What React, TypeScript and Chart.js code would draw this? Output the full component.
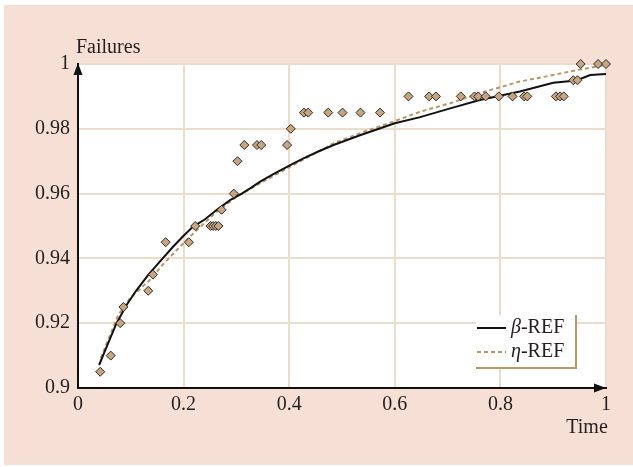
import React, { useEffect, useRef } from "react";
import { Chart, registerables } from "chart.js";

Chart.register(...registerables);

// Observed failure fractions (diamonds)
const failureTimes = [
  0.042, 0.062, 0.08, 0.086, 0.133, 0.142, 0.166, 0.21, 0.222, 0.251, 0.256,
  0.261, 0.266, 0.272, 0.295, 0.302, 0.315, 0.339, 0.347, 0.396, 0.403, 0.428,
  0.436, 0.474, 0.501, 0.535, 0.572, 0.626, 0.665, 0.678, 0.725, 0.751, 0.758,
  0.772, 0.797, 0.823, 0.845, 0.851, 0.905, 0.913, 0.92, 0.938, 0.946, 0.952,
  0.985, 1.0,
];
const failureLevels = [
  0.905, 0.91, 0.92, 0.925, 0.93, 0.935, 0.945, 0.945, 0.95, 0.95, 0.95, 0.95,
  0.95, 0.955, 0.96, 0.97, 0.975, 0.975, 0.975, 0.975, 0.98, 0.985, 0.985,
  0.985, 0.985, 0.985, 0.985, 0.99, 0.99, 0.99, 0.99, 0.99, 0.99, 0.99, 0.99,
  0.99, 0.99, 0.99, 0.99, 0.99, 0.99, 0.995, 0.995, 1.0, 1.0, 1.0,
];

// β-REF reference curve
const betaTimes = [
  0.04, 0.055, 0.073, 0.092, 0.11, 0.133, 0.155, 0.18, 0.2, 0.218, 0.24, 0.263,
  0.288, 0.31, 0.326, 0.345, 0.37, 0.402, 0.427, 0.455, 0.484, 0.534, 0.6,
  0.648, 0.705, 0.761, 0.837, 0.9, 0.944, 0.97, 1.0,
];
const betaValues = [
  0.9071, 0.913, 0.92, 0.9256, 0.93, 0.9349, 0.939, 0.9436, 0.947, 0.9498,
  0.952, 0.955, 0.958, 0.96, 0.9616, 0.9637, 0.966, 0.9688, 0.9709, 0.973,
  0.975, 0.978, 0.9817, 0.9836, 0.9863, 0.9889, 0.9915, 0.9942, 0.9949, 0.9966,
  0.9969,
];

// η-REF reference curve
const etaTimes = [
  0.043, 0.06, 0.076, 0.1, 0.136, 0.16, 0.187, 0.22, 0.263, 0.3, 0.345, 0.402,
  0.484, 0.54, 0.597, 0.648, 0.705, 0.761, 0.837, 0.9, 0.944, 1.0,
];
const etaValues = [
  0.9092, 0.916, 0.9225, 0.928, 0.9333, 0.938, 0.9426, 0.948, 0.9544, 0.959,
  0.9632, 0.9683, 0.9755, 0.979, 0.9822, 0.9853, 0.9879, 0.991, 0.9946, 0.9966,
  0.9981, 0.9997,
];

const xTickLabels = ["0", "0.2", "0.4", "0.6", "0.8", "1"];
const yTickLabels = ["0.9", "0.92", "0.94", "0.96", "0.98", "1"];

const FONT = "'Liberation Serif', 'Times New Roman', serif";
const TEXT = "#231f20";
const GRID = "#ecdccb";
const TAN = "#b8976a";

const decor = {
  id: "decor",
  beforeDraw(chart: any) {
    const { ctx, chartArea: a } = chart;
    ctx.save();
    ctx.fillStyle = "#ffffff";
    ctx.fillRect(a.left, a.top, a.right - a.left, a.bottom - a.top);
    ctx.restore();
  },
  afterDraw(chart: any) {
    const { ctx, chartArea: a } = chart;
    ctx.save();
    ctx.fillStyle = "#111111";
    // arrow heads on the axes
    ctx.beginPath();
    ctx.moveTo(a.left, a.top - 1);
    ctx.lineTo(a.left - 4.5, a.top + 11);
    ctx.lineTo(a.left + 4.5, a.top + 11);
    ctx.closePath();
    ctx.fill();
    ctx.beginPath();
    ctx.moveTo(a.right, a.bottom);
    ctx.lineTo(a.right - 12, a.bottom - 4.5);
    ctx.lineTo(a.right - 12, a.bottom + 4.5);
    ctx.closePath();
    ctx.fill();

    // axis titles
    ctx.fillStyle = TEXT;
    ctx.font = `20px ${FONT}`;
    ctx.textBaseline = "middle";
    ctx.textAlign = "left";
    ctx.fillText("Failures", a.left - 2, a.top - 16);
    ctx.textAlign = "center";
    ctx.fillText("Time", a.right - 19, a.bottom + 40);

    // legend box
    const lx = 476;
    const ly = 315;
    const lw = 100;
    const lh = 53;
    ctx.fillStyle = "#ffffff";
    ctx.fillRect(lx, ly, lw, lh);
    ctx.strokeStyle = TAN;
    ctx.lineWidth = 2;
    ctx.beginPath();
    ctx.moveTo(lx + lw, ly);
    ctx.lineTo(lx + lw, ly + lh);
    ctx.lineTo(lx, ly + lh);
    ctx.stroke();

    const items = chart.data.datasets.filter((d: any) => d.showLine);
    items.forEach((d: any, i: number) => {
      const y = ly + 13 + i * 24;
      ctx.strokeStyle = d.borderColor;
      ctx.lineWidth = d.borderWidth;
      ctx.setLineDash(d.borderDash || []);
      ctx.beginPath();
      ctx.moveTo(lx + 1, y);
      ctx.lineTo(lx + 30, y);
      ctx.stroke();
      ctx.setLineDash([]);
      const label: string = d.label;
      const sym = label.charAt(0);
      const rest = label.slice(1);
      ctx.fillStyle = TEXT;
      ctx.textAlign = "left";
      ctx.textBaseline = "middle";
      ctx.font = `italic 20px ${FONT}`;
      let tx = lx + 35;
      ctx.fillText(sym, tx, y);
      tx += ctx.measureText(sym).width;
      ctx.font = `20px ${FONT}`;
      ctx.fillText(rest, tx, y);
    });
    ctx.restore();
  },
};

export default function App() {
  const canvasRef = useRef<HTMLCanvasElement | null>(null);

  useEffect(() => {
    const canvas = canvasRef.current;
    if (!canvas) return;
    const chart = new Chart(canvas, {
      type: "scatter",
      data: {
        datasets: [
          {
            label: "Failures",
            data: failureTimes.map((t, i) => ({ x: t, y: failureLevels[i] })),
            pointStyle: "rectRot",
            pointRadius: 4.5,
            backgroundColor: "#c8a57e",
            borderColor: "#2b2b2b",
            borderWidth: 1,
            clip: false,
            order: 0,
          },
          {
            label: "β-REF",
            data: betaTimes.map((t, i) => ({ x: t, y: betaValues[i] })),
            showLine: true,
            pointRadius: 0,
            borderColor: "#111111",
            borderWidth: 2,
            order: 1,
          },
          {
            label: "η-REF",
            data: etaTimes.map((t, i) => ({ x: t, y: etaValues[i] })),
            showLine: true,
            pointRadius: 0,
            borderColor: TAN,
            borderWidth: 2,
            borderDash: [4, 3],
            order: 2,
          },
        ] as any,
      },
      options: {
        animation: false,
        responsive: false,
        devicePixelRatio: 1,
        layout: { padding: { left: 0, right: 27, top: 64, bottom: 0 } },
        plugins: { legend: { display: false }, tooltip: { enabled: false } },
        scales: {
          x: {
            type: "linear",
            min: 0,
            max: 1,
            afterFit: (s: any) => {
              s.height = 79;
            },
            ticks: {
              stepSize: 0.2,
              padding: 5,
              color: TEXT,
              font: { family: FONT, size: 20 },
              maxRotation: 0,
              callback: (_v: any, i: number) => xTickLabels[i],
            },
            grid: { color: GRID, lineWidth: 2, drawTicks: false },
            border: { display: true, color: "#111111", width: 2 },
          },
          y: {
            type: "linear",
            min: 0.9,
            max: 1,
            afterFit: (s: any) => {
              s.width = 78;
            },
            ticks: {
              stepSize: 0.02,
              padding: 8,
              color: TEXT,
              font: { family: FONT, size: 20 },
              callback: (_v: any, i: number) => yTickLabels[i],
            },
            grid: { color: GRID, lineWidth: 2, drawTicks: false },
            border: { display: true, color: "#111111", width: 2 },
          },
        },
      },
      plugins: [decor],
    });
    return () => chart.destroy();
  }, []);

  return (
    <div
      style={{
        position: "fixed",
        left: 0,
        top: 0,
        width: 633,
        height: 467,
        background: "#ffffff",
      }}
    >
      <div
        style={{
          position: "absolute",
          left: 4,
          top: 5,
          width: 629,
          height: 460,
          background: "#f6e0d5",
        }}
      />
      <canvas
        ref={canvasRef}
        width={633}
        height={467}
        style={{ position: "absolute", left: 0, top: 0, width: 633, height: 467 }}
      />
    </div>
  );
}
